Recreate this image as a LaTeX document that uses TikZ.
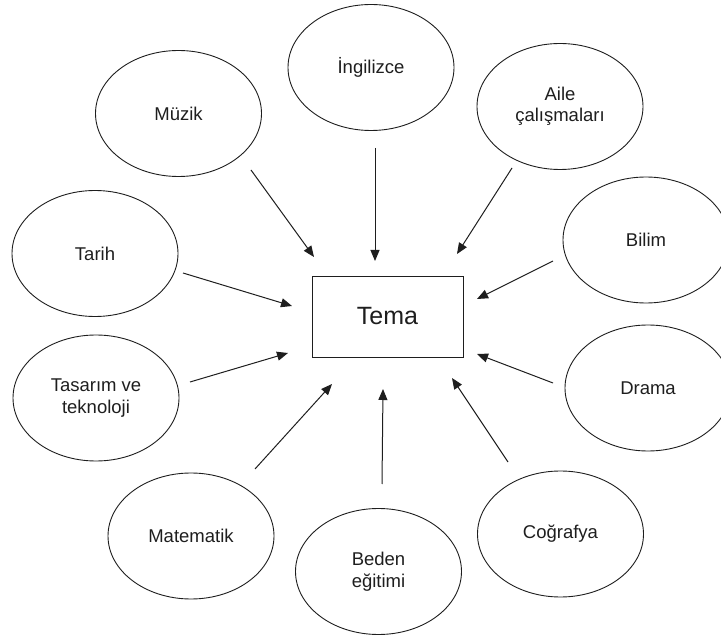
\documentclass[tikz,border=0pt]{standalone}
\usepackage{fontspec}
\setmainfont{Liberation Sans}
\usetikzlibrary{shapes.geometric,arrows.meta}
\definecolor{ink}{RGB}{30,30,30}
\tikzset{
  topic/.style={draw=ink, line width=0.9pt, ellipse, minimum width=166pt,
    minimum height=126pt, inner sep=0pt, align=center, text=ink,
    font=\fontsize{18.5}{21.5}\selectfont},
  hub/.style={draw=ink, line width=0.9pt, rectangle, minimum width=151pt,
    minimum height=81pt, inner sep=0pt, text=ink,
    font=\fontsize{25}{28}\selectfont},
  feed/.style={draw=ink, line width=1pt, -{Triangle[length=11pt,width=9pt]}}
}
\begin{document}
\begin{tikzpicture}[x=1pt,y=-1pt]
\useasboundingbox (0,0) rectangle (721,636);

% central theme box
\node[hub] (tema) at (387.5,316.5) {Tema};

% surrounding subject areas
\node[topic] (ingilizce) at (371,67.5) {İngilizce};
\node[topic] (muzik) at (178.5,113.5) {Müzik};
\node[topic] (aile) at (560,106.5) {Aile\\çalışmaları};
\node[topic] (tarih) at (95,253.5) {Tarih};
\node[topic] (bilim) at (646,240) {Bilim};
\node[topic] (tasarim) at (96,398) {Tasarım ve\\teknoloji};
\node[topic] (drama) at (648,388) {Drama};
\node[topic] (matematik) at (191,536) {Matematik};
\node[topic] (beden) at (378.5,571.5) {Beden\\eğitimi};
\node[topic] (cografya) at (560.5,534) {Coğrafya};

% arrow ends, pointing in towards the theme
\coordinate (muzik-o) at (251,170);     \coordinate (muzik-i) at (314,257);
\coordinate (ing-o) at (375,148);       \coordinate (ing-i) at (375,261);
\coordinate (aile-o) at (512,168);      \coordinate (aile-i) at (457,254);
\coordinate (bilim-o) at (553,261);     \coordinate (bilim-i) at (477,299);
\coordinate (tarih-o) at (183,273);     \coordinate (tarih-i) at (292,306);
\coordinate (tasarim-o) at (190,382);   \coordinate (tasarim-i) at (288,353);
\coordinate (drama-o) at (553,383);     \coordinate (drama-i) at (477,354);
\coordinate (mat-o) at (255,469);       \coordinate (mat-i) at (332,384);
\coordinate (beden-o) at (382,484);     \coordinate (beden-i) at (383,389);
\coordinate (cog-o) at (508,462);       \coordinate (cog-i) at (452,378);

\draw[feed] (muzik-o) -- (muzik-i);
\draw[feed] (ing-o) -- (ing-i);
\draw[feed] (aile-o) -- (aile-i);
\draw[feed] (bilim-o) -- (bilim-i);
\draw[feed] (tarih-o) -- (tarih-i);
\draw[feed] (tasarim-o) -- (tasarim-i);
\draw[feed] (drama-o) -- (drama-i);
\draw[feed] (mat-o) -- (mat-i);
\draw[feed] (beden-o) -- (beden-i);
\draw[feed] (cog-o) -- (cog-i);
\end{tikzpicture}
\end{document}
